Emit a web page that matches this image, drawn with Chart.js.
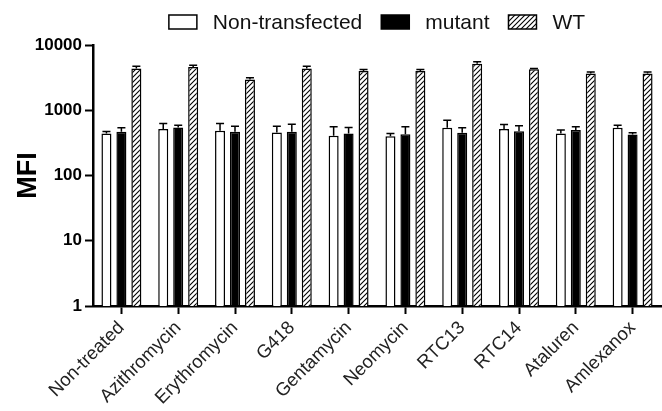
<!DOCTYPE html>
<html>
<head>
<meta charset="utf-8">
<script src="https://cdn.jsdelivr.net/npm/chart.js@4.4.1/dist/chart.umd.min.js"></script>
<style>
  html, body { margin: 0; padding: 0; background: #fff; }
  #wrap { width: 662px; height: 411px; }
</style>
</head>
<body>
<div id="wrap"><canvas id="chart"></canvas></div>
<script>
const treatments = ["Non-treated", "Azithromycin", "Erythromycin", "G418", "Gentamycin",
  "Neomycin", "RTC13", "RTC14", "Ataluren", "Amlexanox"];
const nonTransfected = [441, 514, 484, 457, 405, 401, 538, 514, 441, 538];
const nonTransfectedSem = [32, 114, 144, 114, 152, 40, 167, 92, 55, 53];
const mutant = [467, 545, 467, 467, 441, 430, 451, 478, 496, 426];
const mutantSem = [71, 46, 104, 145, 104, 127, 87, 99, 61, 25];
const wt = [4365, 4600, 2950, 4365, 4010, 4010, 5170, 4260, 3660, 3660];
const wtSem = [370, 300, 185, 370, 205, 205, 380, 105, 210, 210];
const yTicks = [1, 10, 100, 1000, 10000];

const FONT = "'Liberation Sans', Arial, sans-serif";

function hatchPattern() {
  const c = document.createElement("canvas");
  c.width = 5;
  c.height = 5;
  const g = c.getContext("2d");
  g.fillStyle = "#fff";
  g.fillRect(0, 0, 5, 5);
  g.strokeStyle = "#000";
  g.lineWidth = 1.1;
  g.beginPath();
  g.moveTo(-1, 6); g.lineTo(6, -1);
  g.moveTo(-1, 1); g.lineTo(1, -1);
  g.moveTo(4, 6); g.lineTo(6, 4);
  g.stroke();
  return g.createPattern(c, "repeat");
}

// upward-only SEM bars with a cap
const errorBars = {
  id: "errorBars",
  afterDatasetsDraw(chart) {
    const { ctx } = chart;
    const y = chart.scales.y;
    ctx.save();
    ctx.strokeStyle = "#000";
    ctx.lineWidth = 1.5;
    chart.data.datasets.forEach((ds, i) => {
      chart.getDatasetMeta(i).data.forEach((bar, j) => {
        const top = y.getPixelForValue(ds.data[j] + ds.sem[j]);
        const half = bar.width * 0.4;
        ctx.beginPath();
        ctx.moveTo(bar.x, bar.y);
        ctx.lineTo(bar.x, top);
        ctx.moveTo(bar.x - half, top);
        ctx.lineTo(bar.x + half, top);
        ctx.stroke();
      });
    });
    ctx.restore();
  },
};

// one-row legend above the plot, GraphPad style spacing
const legendRow = {
  id: "legendRow",
  afterDraw(chart) {
    const { ctx, chartArea } = chart;
    const boxW = 28, boxH = 14, textGap = 16, itemGap = 19;
    ctx.save();
    ctx.font = "21px " + FONT;
    const items = chart.data.datasets.map((ds) => ({
      ds,
      w: boxW + textGap + ctx.measureText(ds.label).width,
    }));
    const total = items.reduce((s, it) => s + it.w, 0) + itemGap * (items.length - 1);
    let x = (chartArea.left + chartArea.right) / 2 - total / 2;
    const yMid = chartArea.top - 23;
    items.forEach(({ ds, w }) => {
      ctx.fillStyle = ds.backgroundColor;
      ctx.fillRect(x, yMid - boxH / 2, boxW, boxH);
      ctx.strokeStyle = "#000";
      ctx.lineWidth = 1.5;
      ctx.strokeRect(x, yMid - boxH / 2, boxW, boxH);
      ctx.fillStyle = "#111";
      ctx.textBaseline = "middle";
      ctx.fillText(ds.label, x + boxW + textGap, yMid + 1);
      x += w + itemGap;
    });
    ctx.restore();
  },
};

new Chart(document.getElementById("chart"), {
  type: "bar",
  data: {
    labels: treatments,
    datasets: [
      { label: "Non-transfected", data: nonTransfected, sem: nonTransfectedSem, backgroundColor: "#fff" },
      { label: "mutant", data: mutant, sem: mutantSem, backgroundColor: "#000" },
      { label: "WT", data: wt, sem: wtSem, backgroundColor: hatchPattern() },
    ],
  },
  options: {
    responsive: true,
    maintainAspectRatio: false,
    animation: false,
    layout: { padding: { top: 45, right: 1, left: 0, bottom: 0 } },
    datasets: {
      bar: { categoryPercentage: 0.79, barPercentage: 0.67, borderColor: "#000", borderWidth: 1.5 },
    },
    plugins: { legend: { display: false }, tooltip: { enabled: false } },
    scales: {
      x: {
        grid: { offset: false, drawOnChartArea: false, tickLength: 8, tickWidth: 2, tickColor: "#000" },
        border: { color: "#000", width: 2.5 },
        ticks: { minRotation: 45, maxRotation: 45, color: "#222", padding: 3, font: { family: FONT, size: 18.5 } },
        afterFit(s) { s.height = 105; },
      },
      y: {
        type: "logarithmic",
        min: 1,
        max: 10000,
        afterBuildTicks(s) { s.ticks = yTicks.map((v) => ({ value: v })); },
        grid: { drawOnChartArea: false, tickLength: 8, tickWidth: 2, tickColor: "#000" },
        border: { color: "#000", width: 2.5 },
        ticks: { callback: (v) => String(v), color: "#000", padding: 3, font: { family: FONT, size: 17, weight: "bold" } },
        title: { display: true, text: "MFI", color: "#000", padding: { top: 12, bottom: 0 }, font: { family: FONT, size: 27, weight: "bold" } },
        afterFit(s) { s.width = 93; },
      },
    },
  },
  plugins: [errorBars, legendRow],
});
</script>
</body>
</html>
